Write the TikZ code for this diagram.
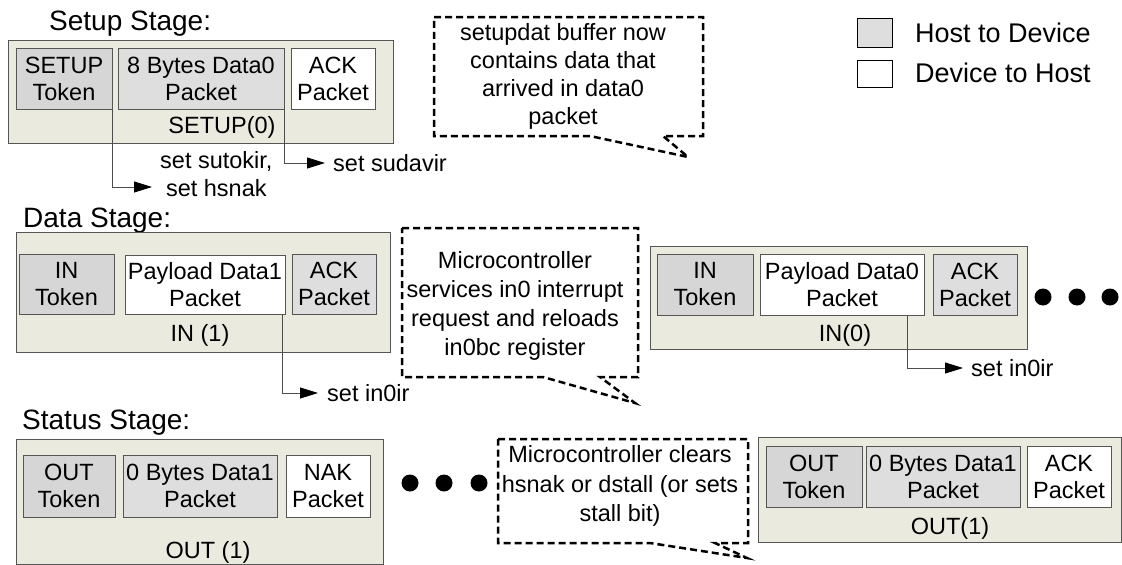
\documentclass[tikz,border=0pt]{standalone}
\usepackage{fontspec}
\setmainfont{Liberation Sans}
\usetikzlibrary{arrows.meta,calc}
\definecolor{stagefill}{RGB}{234,234,222}
\definecolor{h2d}{RGB}{222,222,222}
\definecolor{tokfill}{RGB}{214,214,214}
\definecolor{boxline}{RGB}{85,85,85}
\tikzset{
 stagebox/.style={draw=boxline, fill=stagefill, line width=1pt, inner sep=0pt},
 pkt/.style={draw=boxline, line width=1pt, inner sep=0pt, align=center, font=\fontsize{23.5}{27}\selectfont},
 hostpkt/.style={pkt, fill=h2d},
 tokpkt/.style={pkt, fill=tokfill},
 devpkt/.style={pkt, fill=white},
 lbl/.style={inner sep=0pt, font=\fontsize{23.5}{28}\selectfont, align=center},
 ttl/.style={inner sep=0pt, anchor=base west, font=\fontsize{28}{32}\selectfont},
 lgd/.style={inner sep=0pt, anchor=west, font=\fontsize{27}{32}\selectfont},
 conn/.style={draw=black!70, line width=0.9pt, -{Triangle[length=18pt,width=11pt,color=black]}},
 callout/.style={draw=black, line width=2.5pt, dash pattern=on 7pt off 4pt, line join=miter},
 dotn/.style={circle, fill=black, inner sep=0pt, minimum size=17pt},
}
\begin{document}
\begin{tikzpicture}[x=1pt,y=-1pt]
\useasboundingbox (0,0) rectangle (1122,565);

% ---------------- Setup stage ----------------
\node[ttl] (tsetup) at (49,30) {Setup Stage:};
\node[stagebox, minimum width=385pt, minimum height=103pt] (sst) at (200.5,91.5) {};
\node[tokpkt, minimum width=96pt, minimum height=61pt] (s1) at (64,78.5) {SETUP\\Token};
\node[hostpkt, minimum width=166pt, minimum height=61pt] (s2) at (201,78.5) {8 Bytes Data0\\Packet};
\node[devpkt, minimum width=84pt, minimum height=61pt] (s3) at (333,78.5) {ACK\\Packet};
\node[lbl] (s0) at (222,127) {SETUP(0)};

\coordinate (e1) at (152,187);
\draw[conn] (s1.south east) |- (e1);
\node[lbl, anchor=west] (a1) at (160,174) {set sutokir,\\set hsnak};
\coordinate (e2) at (325,163);
\draw[conn] (s2.south east) |- (e2);
\node[lbl, anchor=west] (a2) at (333,163) {set sudavir};

% callout 1
\draw[callout] (434,17) -- (703,17) -- (703,136) -- (663,136) -- (688,157) -- (590,136) -- (434,136) -- cycle;
\node[lbl, font=\fontsize{23.5}{28}\selectfont] (c1) at (563,76) {setupdat buffer now\\contains data that\\arrived in data0\\packet};

% legend
\node[draw=black, line width=1pt, fill=h2d, minimum width=35pt, minimum height=29pt, inner sep=0pt] (lg1) at (874.5,32.5) {};
\node[lgd] (lt1) at (915,33) {Host to Device};
\node[draw=black, line width=1pt, fill=white, minimum width=35pt, minimum height=27pt, inner sep=0pt] (lg2) at (874.5,73.5) {};
\node[lgd] (lt2) at (915,73) {Device to Host};

% ---------------- Data stage ----------------
\node[ttl] (tdata) at (23,227) {Data Stage:};
\node[stagebox, minimum width=374pt, minimum height=120pt] (dst) at (203,292) {};
\node[tokpkt, minimum width=95pt, minimum height=60pt] (d1) at (66.5,284) {IN\\Token};
\node[devpkt, minimum width=160pt, minimum height=59pt] (d2) at (205,284.5) {Payload Data1\\Packet};
\node[hostpkt, minimum width=84pt, minimum height=60pt] (d3) at (334,284) {ACK\\Packet};
\node[lbl] (d0) at (200,335) {IN (1)};
\coordinate (e3) at (318,393);
\draw[conn] ($(d2.south east)+(-3,0)$) |- (e3);
\node[lbl, anchor=west] (a3) at (327,393) {set in0ir};

% callout 2
\draw[callout] (402,228) -- (638,228) -- (638,377) -- (600,377) -- (635,403) -- (543,377) -- (402,377) -- cycle;
\node[lbl, font=\fontsize{23.5}{29}\selectfont] (c2) at (515,306) {Microcontroller\\services in0 interrupt\\request and reloads\\in0bc register};

\node[stagebox, minimum width=377pt, minimum height=103pt] (rst) at (838.5,297.5) {};
\node[tokpkt, minimum width=96pt, minimum height=61pt] (r1) at (705,284.5) {IN\\Token};
\node[devpkt, minimum width=164pt, minimum height=61pt] (r2) at (842,284.5) {Payload Data0\\Packet};
\node[hostpkt, minimum width=84pt, minimum height=61pt] (r3) at (975,284.5) {ACK\\Packet};
\node[lbl] (r0) at (845,335) {IN(0)};
\coordinate (e4) at (963,368);
\draw[conn] ($(r2.south east)+(-17,0)$) |- (e4);
\node[lbl, anchor=west] (a4) at (971,368) {set in0ir};
\node[dotn] (rd1) at (1043,297) {};
\node[dotn] (rd2) at (1077,297) {};
\node[dotn] (rd3) at (1110,297) {};

% ---------------- Status stage ----------------
\node[ttl] (tstat) at (22,429) {Status Stage:};
\node[stagebox, minimum width=367pt, minimum height=125pt] (tst) at (199.5,501.5) {};
\node[tokpkt, minimum width=92pt, minimum height=62pt] (t1) at (69,486) {OUT\\Token};
\node[hostpkt, minimum width=154pt, minimum height=62pt] (t2) at (200,486) {0 Bytes Data1\\Packet};
\node[devpkt, minimum width=84pt, minimum height=62pt] (t3) at (328,486) {NAK\\Packet};
\node[lbl] (t0) at (208,552) {OUT (1)};
\node[dotn] (td1) at (410,483) {};
\node[dotn] (td2) at (444,483) {};
\node[dotn] (td3) at (479,483) {};

% callout 3
\draw[callout] (498,439) -- (748,439) -- (748,543) -- (715,543) -- (747,558) -- (650,543) -- (498,543) -- cycle;
\node[lbl, font=\fontsize{23.5}{29.5}\selectfont] (c3) at (620,486) {Microcontroller clears\\hsnak or dstall (or sets\\stall bit)};

\node[stagebox, minimum width=363pt, minimum height=105pt] (ust) at (939.5,489.5) {};
\node[tokpkt, minimum width=96pt, minimum height=61pt] (u1) at (814,476.5) {OUT\\Token};
\node[hostpkt, minimum width=154pt, minimum height=61pt] (u2) at (943,476.5) {0 Bytes Data1\\Packet};
\node[devpkt, minimum width=84pt, minimum height=61pt] (u3) at (1069,476.5) {ACK\\Packet};
\node[lbl] (u0) at (950,528) {OUT(1)};
\end{tikzpicture}
\end{document}
